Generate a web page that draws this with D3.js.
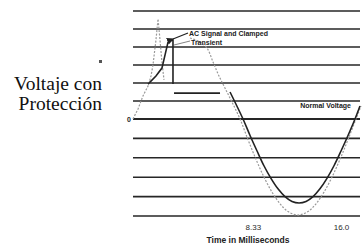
<!DOCTYPE html>
<html>
<head>
<meta charset="utf-8">
<script src="https://cdn.jsdelivr.net/npm/d3@7/dist/d3.min.js"></script>
<style>
  body { margin: 0; background: #fff; }
  svg { display: block; }
  .lbl { font-family: "Liberation Sans", Arial, sans-serif; font-weight: bold; fill: #222; }
</style>
</head>
<body>
<div id="chart"></div>
<script>
// Grid levels (volts, arbitrary units) and time ticks (ms).
const gridLevels = [6, 5, 4, 3, 2, 1, 0, -1, -2, -3, -4, -5]
const timeTicks = [8.33, 16.0]
const timeTickLabels = ['8.33', '16.0']

// Dotted trace: the AC signal with the unclamped transient spike.
const transientTrace = [
  [-2.09, 0], [-1.65, 0.56], [-1.22, 1.28], [-0.78, 1.83], [-0.52, 2.39],
  [-0.35, 3.0], [-0.09, 4.39], [0.09, 5.56], [0.26, 4.39], [0.43, 3.17], [0.61, 2.17]
]
const acSignal = [
  [2.87, 4.5], [3.74, 4.28], [4.35, 3.94], [4.87, 3.17], [5.39, 2.39], [5.91, 1.72],
  [6.52, 0.94], [7.22, 0], [7.91, -1.06], [8.61, -2.08], [9.30, -2.99], [10.0, -3.77],
  [10.70, -4.37], [11.39, -4.77], [12.26, -4.95], [13.13, -4.77], [13.83, -4.37],
  [14.52, -3.77], [15.22, -2.99], [15.91, -2.08], [16.61, -1.06], [17.30, 0], [17.74, 0.72]
]
// Solid traces: clamped transient and the normal voltage.
const clampedTransient = [
  [-0.78, 1.94], [-0.09, 2.39], [0.43, 2.83], [0.70, 3.56], [0.96, 4.28],
  [1.30, 4.39], [1.39, 4.39], [1.39, 1.94]
]
const clampLevel = [[1.48, 1.44], [5.48, 1.44]]
const normalVoltage = [
  [6.35, 1.5], [7.48, 0], [8.09, -0.85], [8.70, -1.65], [9.30, -2.41], [9.91, -3.06],
  [10.52, -3.6], [11.13, -4.0], [11.74, -4.25], [12.35, -4.33], [12.96, -4.25],
  [13.57, -4.0], [14.17, -3.6], [14.78, -3.06], [15.39, -2.41], [16.0, -1.65],
  [16.61, -0.85], [17.22, 0], [17.65, 0.72]
]

const width = 362
const height = 248
const gridLeft = 133
const gridRight = 360

const svg = d3.select('#chart')
  .append('svg')
  .attr('width', width)
  .attr('height', height)

/**
 * Scales.
 */
const x = d3.scaleLinear()
  .domain([0, 16])
  .range([157, 341])
const y = d3.scaleLinear()
  .domain([-5, 0, 6])
  .range([216, 119, 11])

/**
 * Grid lines.
 */
svg.append('g')
  .selectAll('line')
  .data(gridLevels)
  .enter()
  .append('line')
    .attr('x1', gridLeft)
    .attr('x2', gridRight)
    .attr('y1', d => y(d))
    .attr('y2', d => y(d))
    .attr('stroke', '#262626')
    .attr('stroke-width', d => d === 0 ? 1.9 : 1.6)

// Axes (labels only).
svg.append('g')
  .attr('transform', `translate(0,${y(-5)})`)
  .call(
    d3.axisBottom(x)
      .tickValues(timeTicks)
      .tickSize(0)
      .tickPadding(8)
      .tickFormat((d, i) => timeTickLabels[i])
  )
  .call(g => g.select('.domain').remove())
  .selectAll('text')
    .attr('font-family', '"Liberation Sans", Arial, sans-serif')
    .attr('font-size', 8)
    .style('fill', '#2a2a2a')

svg.append('g')
  .attr('transform', `translate(${gridLeft},0)`)
  .call(d3.axisLeft(y).tickValues([0]).tickSize(0).tickPadding(2))
  .call(g => g.select('.domain').remove())
  .selectAll('text')
    .attr('class', 'lbl')
    .attr('font-size', 7)
    .style('fill', '#222')

svg.append('text')
  .attr('class', 'lbl')
  .attr('x', 248)
  .attr('y', 243)
  .attr('text-anchor', 'middle')
  .attr('font-size', 8.5)
  .text('Time in Milliseconds')

/**
 * Traces.
 */
const line = d3.line()
  .x(d => x(d[0]))
  .y(d => y(d[1]))
const smooth = d3.line()
  .x(d => x(d[0]))
  .y(d => y(d[1]))
  .curve(d3.curveCatmullRom)

svg.append('path')
  .attr('d', line(transientTrace))
  .attr('fill', 'none')
  .attr('stroke', '#9a9a9a')
  .attr('stroke-width', 1.2)
  .attr('stroke-dasharray', '2,1.5')
svg.append('path')
  .attr('d', smooth(acSignal))
  .attr('fill', 'none')
  .attr('stroke', '#9a9a9a')
  .attr('stroke-width', 1.2)
  .attr('stroke-dasharray', '2,1.5')

svg.append('path')
  .attr('d', line(clampedTransient))
  .attr('fill', 'none')
  .attr('stroke', '#222')
  .attr('stroke-width', 1.6)
svg.append('path')
  .attr('d', line(clampLevel))
  .attr('fill', 'none')
  .attr('stroke', '#222')
  .attr('stroke-width', 1.6)
svg.append('path')
  .attr('d', smooth(normalVoltage))
  .attr('fill', 'none')
  .attr('stroke', '#222')
  .attr('stroke-width', 1.6)

/**
 * Annotations.
 */
svg.append('defs')
  .append('marker')
  .attr('id', 'arrowhead')
  .attr('refX', 1)
  .attr('refY', 3)
  .attr('markerWidth', 6)
  .attr('markerHeight', 6)
  .attr('orient', 'auto')
  .append('path')
  .attr('d', 'M 6 0 L 0 3 L 6 6 Z')
  .attr('fill', '#222')

svg.append('line')
  .attr('x1', 188).attr('y1', 33)
  .attr('x2', 173).attr('y2', 39)
  .attr('stroke', '#222')
  .attr('stroke-width', 1.2)
  .attr('marker-end', 'url(#arrowhead)')
svg.append('line')
  .attr('x1', 190).attr('y1', 41)
  .attr('x2', 174).attr('y2', 45)
  .attr('stroke', '#666')
  .attr('stroke-width', 0.8)

svg.append('text')
  .attr('class', 'lbl')
  .attr('x', 189)
  .attr('y', 36)
  .attr('font-size', 7)
  .text('AC Signal and Clamped')
svg.append('text')
  .attr('class', 'lbl')
  .attr('x', 191)
  .attr('y', 45)
  .attr('font-size', 7)
  .text('Transient')
svg.append('text')
  .attr('class', 'lbl')
  .attr('x', 351)
  .attr('y', 108)
  .attr('text-anchor', 'end')
  .attr('font-size', 7)
  .text('Normal Voltage')

// Side caption.
svg.append('rect')
  .attr('x', 99).attr('y', 60)
  .attr('width', 3).attr('height', 3)
  .attr('fill', '#555')
const caption = svg.append('text')
  .attr('text-anchor', 'end')
  .attr('font-family', '"Liberation Serif", "Times New Roman", serif')
  .attr('font-size', 19.5)
  .attr('fill', '#111')
caption.append('tspan').attr('x', 102).attr('y', 90).text('Voltaje con')
caption.append('tspan').attr('x', 102).attr('y', 110).text('Protección')
</script>
</body>
</html>
